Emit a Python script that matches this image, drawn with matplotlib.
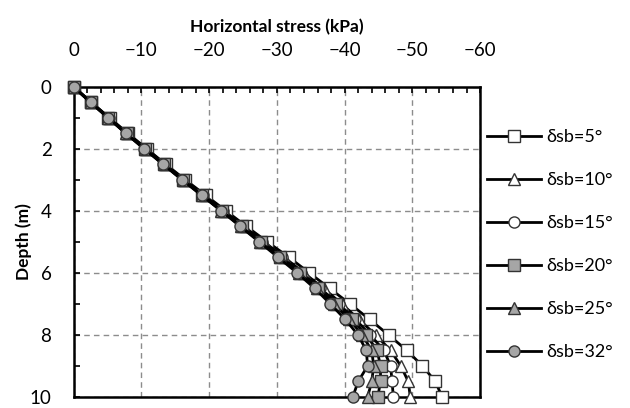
import matplotlib
matplotlib.use('Agg')
import matplotlib.pyplot as plt
from matplotlib.ticker import MultipleLocator

plt.rcParams['font.family'] = ['Lato', 'DejaVu Sans']

depth = [0, 0.5, 1, 1.5, 2, 2.5, 3, 3.5, 4, 4.5, 5, 5.5, 6, 6.5, 7, 7.5, 8, 8.5, 9, 9.5, 10]

stress_5 = [0, -2.6, -5.3, -8.0, -10.8, -13.6, -16.5, -19.5, -22.5, -25.5, -28.6,
            -31.8, -34.8, -37.8, -40.8, -43.7, -46.5, -49.2, -51.5, -53.4, -54.4]
stress_10 = [0, -2.6, -5.2, -7.9, -10.7, -13.5, -16.3, -19.3, -22.2, -25.1, -28.1,
             -31.1, -34.0, -36.9, -39.6, -42.1, -44.6, -46.8, -48.3, -49.4, -49.7]
stress_15 = [0, -2.5, -5.2, -7.8, -10.6, -13.4, -16.2, -19.1, -22.0, -24.9, -27.8,
             -30.7, -33.6, -36.4, -39.1, -41.6, -43.8, -45.8, -46.8, -47.0, -47.2]
stress_20 = [0, -2.5, -5.1, -7.8, -10.5, -13.3, -16.1, -19.0, -21.9, -24.8, -27.6,
             -30.5, -33.4, -36.1, -38.7, -41.1, -43.2, -44.8, -45.3, -45.3, -44.9]
stress_25 = [0, -2.5, -5.1, -7.7, -10.5, -13.3, -16.1, -19.0, -21.8, -24.7, -27.5,
             -30.4, -33.2, -35.9, -38.4, -40.7, -42.6, -44.0, -44.3, -44.0, -43.4]
stress_32 = [0, -2.5, -5.1, -7.7, -10.4, -13.2, -16.0, -18.9, -21.8, -24.6, -27.4,
             -30.2, -33.0, -35.6, -37.9, -40.1, -42.0, -43.2, -43.4, -42.0, -41.2]

labels = ['δsb=5°', 'δsb=10°', 'δsb=15°', 'δsb=20°', 'δsb=25°', 'δsb=32°']
series = [stress_5, stress_10, stress_15, stress_20, stress_25, stress_32]
markers = ['s', '^', 'o', 's', '^', 'o']
fills = ['white', 'white', 'white', '#a6a6a6', '#a6a6a6', '#a6a6a6']

fig = plt.figure(figsize=(6.3, 4.08), dpi=100)
ax = fig.add_axes([0.117, 0.027, 0.645, 0.760])

for s, m, fc, lab in zip(series, markers, fills, labels):
    ax.plot(s, depth, color='black', lw=2.0, marker=m, markersize=8,
            markerfacecolor=fc, markeredgecolor='#333333', markeredgewidth=1.0,
            label=lab, clip_on=False, zorder=3)

ax.set_xlim(0, -60)
ax.set_ylim(10, 0)
ax.xaxis.set_major_locator(MultipleLocator(10))
ax.xaxis.set_minor_locator(MultipleLocator(2))
ax.yaxis.set_major_locator(MultipleLocator(2))
ax.yaxis.set_minor_locator(MultipleLocator(1))
ax.xaxis.tick_top()
ax.xaxis.set_label_position('top')
ax.tick_params(axis='x', which='both', direction='in', length=4, width=1.2,
               pad=20, labelsize=13.5)
ax.tick_params(axis='y', which='both', direction='in', length=4, width=1.2,
               pad=16, labelsize=13.5)

ax.grid(True, which='major', color='#8c8c8c', linestyle=(0, (4, 3)), lw=1.0)
ax.set_axisbelow(True)
for sp in ax.spines.values():
    sp.set_linewidth(1.8)
    sp.set_color('black')

ax.set_xlabel('Horizontal stress (kPa)', fontsize=12.5, fontweight='bold', labelpad=7)
ax.set_ylabel('Depth (m)', fontsize=12.5, fontweight='bold', labelpad=-2)

leg = ax.legend(loc='upper left', bbox_to_anchor=(0.985, 0.905), frameon=False,
                fontsize=13, handlelength=3.0, handletextpad=0.3, labelspacing=1.5,
                borderaxespad=0.3)

fig.savefig('out.png', dpi=100)
